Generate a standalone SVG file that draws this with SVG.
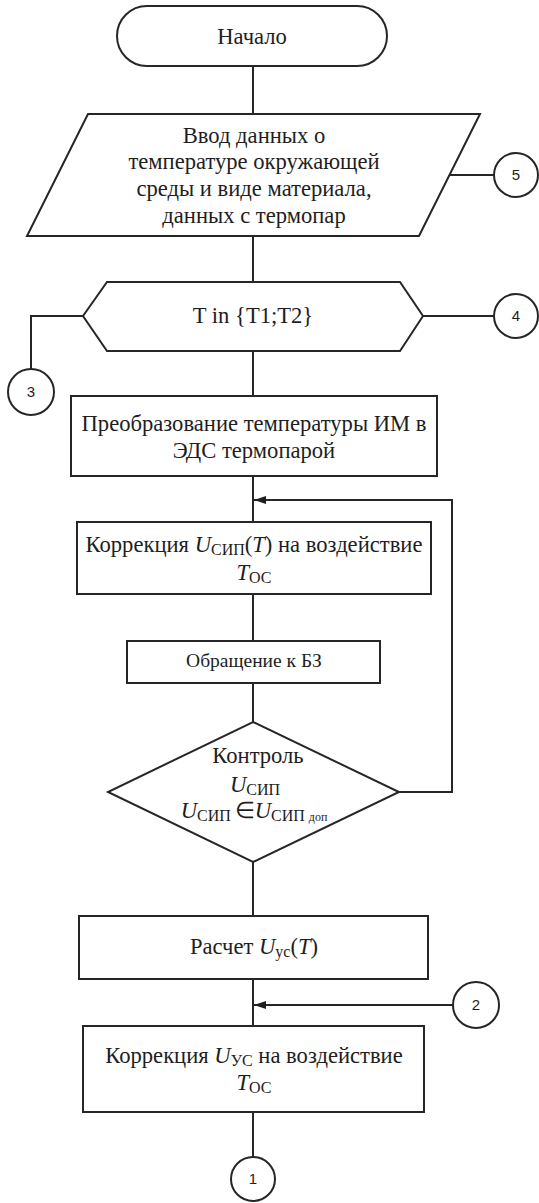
<svg xmlns="http://www.w3.org/2000/svg" width="539" height="1203" viewBox="0 0 539 1203">
  <style>
    .shape { fill: #ffffff; stroke: #262626; stroke-width: 2; }
    .line { fill: none; stroke: #262626; stroke-width: 2; }
    text { font-family: "Liberation Serif", "Times New Roman", serif; font-size: 22.6px; fill: #1e1e1e; text-anchor: middle; }
    .it { font-style: italic; }
    .sub { font-size: 16px; }
    .sub2 { font-size: 12px; }
    .small { font-size: 19.5px; }
    .num { font-family: "Liberation Sans", Arial, sans-serif; font-size: 15px; }
  </style>
  <defs>
    <marker id="arrow" markerUnits="userSpaceOnUse" markerWidth="12" markerHeight="8" refX="12" refY="4" orient="auto">
      <path d="M0,0 L12,4 L0,8 z" fill="#1e1e1e"/>
    </marker>
  </defs>

  <rect width="539" height="1203" fill="#ffffff"/>

  <!-- connectors -->
  <g id="connectors">
    <path class="line" d="M253,66 V114"/>
    <path class="line" d="M253,236 V282"/>
    <path class="line" d="M450,175 H494"/>
    <path class="line" d="M423,316 H494"/>
    <path class="line" d="M83,316 H31 V369"/>
    <path class="line" d="M253,351 V396"/>
    <path class="line" d="M253,476 V522"/>
    <path class="line" d="M399,792 H452 V500 H254" marker-end="url(#arrow)"/>
    <path class="line" d="M253,594 V641"/>
    <path class="line" d="M253,683 V722"/>
    <path class="line" d="M253,862 V916"/>
    <path class="line" d="M253,979 V1026"/>
    <path class="line" d="M453,1005 H254" marker-end="url(#arrow)"/>
    <path class="line" d="M253,1112 V1157"/>
  </g>

  <!-- start terminal -->
  <g id="start">
    <rect class="shape" x="117" y="6" width="270" height="60" rx="30" ry="30"/>
    <text x="252" y="44">Начало</text>
  </g>

  <!-- input data -->
  <g id="input">
    <polygon class="shape" points="88,114 480,114 419,236 27,236"/>
    <text x="254" y="143">Ввод данных о</text>
    <text x="254" y="169">температуре окружающей</text>
    <text x="254" y="196">среды и виде материала,</text>
    <text x="254" y="223">данных с термопар</text>
  </g>

  <!-- loop over thermocouples -->
  <g id="loop">
    <polygon class="shape" points="83,316 107,282 400,282 423,316 400,351 107,351"/>
    <text x="253" y="323">T in {T1;T2}</text>
  </g>

  <g id="convert">
    <rect class="shape" x="71" y="396" width="366" height="80"/>
    <text x="254" y="431">Преобразование температуры ИМ в</text>
    <text x="254" y="458">ЭДС термопарой</text>
  </g>

  <g id="correct-usip">
    <rect class="shape" x="77" y="522" width="354" height="72"/>
    <text x="254" y="552">Коррекция <tspan class="it">U</tspan><tspan class="sub" dy="3">СИП</tspan><tspan dy="-3">(</tspan><tspan class="it">T</tspan>) на воздействие</text>
    <text x="254" y="580"><tspan class="it">T</tspan><tspan class="sub" dy="3">ОС</tspan></text>
  </g>

  <g id="kb-query">
    <rect class="shape" x="127" y="641" width="253" height="42"/>
    <text class="small" x="254" y="667">Обращение к БЗ</text>
  </g>

  <g id="check-usip">
    <polygon class="shape" points="253,722 399,792 253,862 108,792"/>
    <text x="258" y="763">Контроль</text>
    <text x="255" y="792"><tspan class="it">U</tspan><tspan class="sub" dy="3">СИП</tspan></text>
    <text x="254" y="818"><tspan class="it">U</tspan><tspan class="sub" dy="3">СИП </tspan><tspan dy="-3">∈</tspan><tspan class="it">U</tspan><tspan class="sub" dy="3">СИП </tspan><tspan class="sub2">доп</tspan></text>
  </g>

  <g id="calc-uus">
    <rect class="shape" x="79" y="916" width="349" height="63"/>
    <text x="254" y="954">Расчет <tspan class="it">U</tspan><tspan class="sub" dy="3">ус</tspan><tspan dy="-3">(</tspan><tspan class="it">T</tspan>)</text>
  </g>

  <g id="correct-uus">
    <rect class="shape" x="83" y="1026" width="341" height="86"/>
    <text x="254" y="1063">Коррекция <tspan class="it">U</tspan><tspan class="sub" dy="3">УС</tspan><tspan dy="-3"> на воздействие</tspan></text>
    <text x="254" y="1090"><tspan class="it">T</tspan><tspan class="sub" dy="3">ОС</tspan></text>
  </g>

  <!-- off-page connectors -->
  <g id="conn-5">
    <circle class="shape" cx="516" cy="175" r="22"/>
    <text class="num" x="516" y="180">5</text>
  </g>
  <g id="conn-4">
    <circle class="shape" cx="516" cy="316" r="22"/>
    <text class="num" x="516" y="321">4</text>
  </g>
  <g id="conn-3">
    <circle class="shape" cx="31" cy="392" r="23"/>
    <text class="num" x="31" y="397">3</text>
  </g>
  <g id="conn-2">
    <circle class="shape" cx="476" cy="1005" r="23"/>
    <text class="num" x="476" y="1010">2</text>
  </g>
  <g id="conn-1">
    <circle class="shape" cx="253" cy="1179" r="22"/>
    <text class="num" x="253" y="1184">1</text>
  </g>
</svg>
